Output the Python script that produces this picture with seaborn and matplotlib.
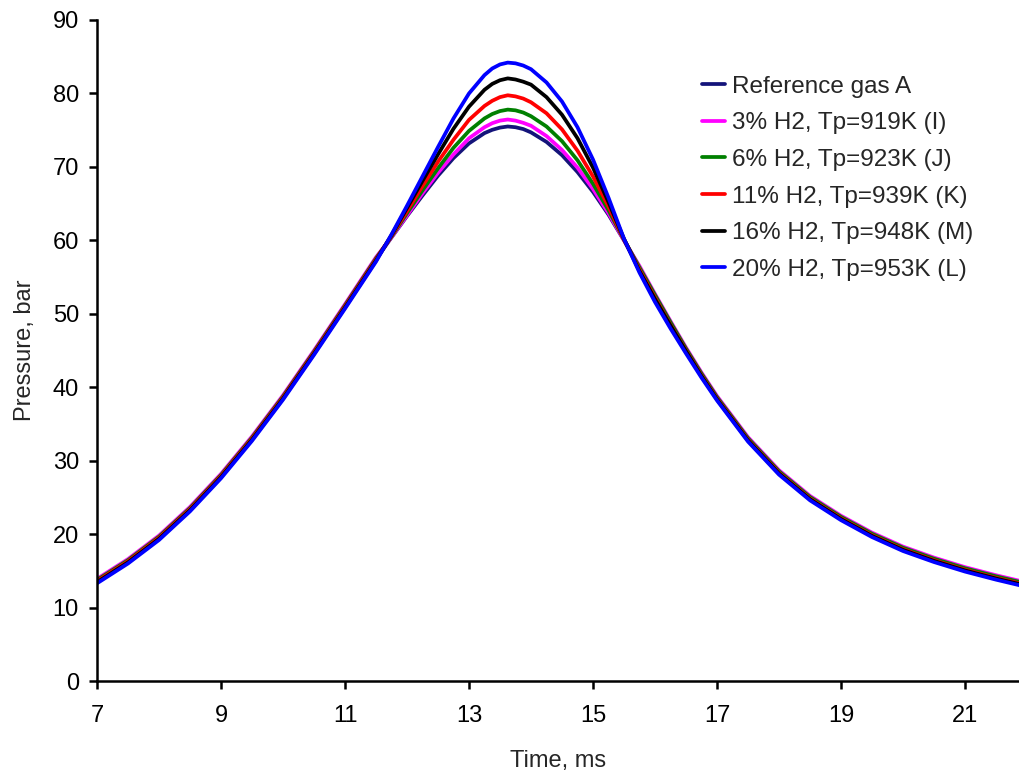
import numpy as np
import pandas as pd
import seaborn as sns
import matplotlib
matplotlib.use("Agg")
import matplotlib.pyplot as plt

time_ms = [7.0, 7.5, 8.0, 8.5, 9.0, 9.5, 10.0, 10.5, 11.0, 11.5,
           11.75, 12.0, 12.25, 12.5, 12.75, 13.0, 13.25, 13.375, 13.5, 13.625,
           13.75, 13.875, 14.0,
           14.25, 14.5, 14.75, 15.0, 15.25, 15.5,
           15.75, 16.0, 16.25, 16.5, 16.75, 17.0,
           17.5, 18.0, 18.5, 19.0, 19.5, 20.0, 20.5, 21.0, 21.5, 22.0]

ref_gas_a = [13.6, 16.3, 19.5, 23.4, 27.9, 33.0, 38.6, 44.7, 51.0, 57.4,
             60.4, 63.3, 66.1, 68.8, 71.2, 73.2, 74.6, 75.05, 75.35, 75.5,
             75.4, 75.15, 74.7,
             73.4, 71.6, 69.3, 66.6, 63.5, 60.0,
             56.2, 52.4, 48.7, 45.1, 41.7, 38.5,
             32.9, 28.4, 24.9, 22.2, 19.9, 18.0, 16.5, 15.2, 14.1, 13.1]

h2_3 = [13.9, 16.6, 19.8, 23.7, 28.2, 33.3, 38.9, 45.0, 51.3, 57.7,
        60.4, 63.4, 66.4, 69.2, 71.7, 73.9, 75.4, 75.95, 76.3, 76.45,
        76.3, 76.0, 75.6,
        74.2, 72.3, 69.9, 67.0, 63.7, 60.0,
        56.5, 52.7, 49.0, 45.4, 42.0, 38.8,
        33.2, 28.7, 25.2, 22.5, 20.2, 18.3, 16.8, 15.5, 14.4, 13.4]

h2_6 = [13.75, 16.45, 19.65, 23.55, 28.05, 33.15, 38.75, 44.85, 51.15, 57.55,
        60.5, 63.7, 66.8, 69.8, 72.6, 74.9, 76.6, 77.2, 77.6, 77.8,
        77.7, 77.4, 76.9,
        75.5, 73.5, 70.9, 67.7, 64.1, 60.1,
        56.3, 52.55, 48.85, 45.25, 41.85, 38.65,
        33.05, 28.55, 25.05, 22.35, 20.05, 18.15, 16.65, 15.35, 14.25, 13.25]

h2_11 = [13.6, 16.3, 19.5, 23.4, 27.9, 33.0, 38.6, 44.7, 51.0, 57.4,
         60.6, 64.0, 67.4, 70.7, 73.7, 76.4, 78.3, 79.0, 79.5, 79.75,
         79.6, 79.3, 78.8,
         77.3, 75.1, 72.2, 68.7, 64.6, 60.1,
         56.0, 52.2, 48.5, 45.0, 41.6, 38.45,
         32.85, 28.35, 24.85, 22.15, 19.85, 17.95, 16.45, 15.15, 14.05, 13.05]

h2_16 = [13.45, 16.15, 19.35, 23.25, 27.75, 32.85, 38.45, 44.55, 50.85, 57.25,
         60.7, 64.4, 68.1, 71.7, 75.2, 78.2, 80.5, 81.3, 81.8, 82.05,
         81.9, 81.6, 81.2,
         79.5, 77.1, 73.9, 69.9, 65.2, 60.2,
         55.8, 52.0, 48.4, 44.9, 41.5, 38.35,
         32.75, 28.25, 24.75, 22.05, 19.75, 17.85, 16.35, 15.05, 13.95, 12.95]

h2_20 = [13.3, 16.0, 19.2, 23.1, 27.6, 32.7, 38.3, 44.4, 50.7, 57.1,
         60.8, 64.7, 68.7, 72.7, 76.6, 80.0, 82.5, 83.4, 83.95, 84.2,
         84.1, 83.8, 83.3,
         81.5, 78.9, 75.4, 71.0, 65.8, 60.2,
         55.6, 51.6, 48.0, 44.6, 41.3, 38.2,
         32.6, 28.1, 24.6, 21.9, 19.6, 17.7, 16.2, 14.9, 13.8, 12.8]

series_labels = ["Reference gas A",
                 "3% H2, Tp=919K (I)",
                 "6% H2, Tp=923K (J)",
                 "11% H2, Tp=939K (K)",
                 "16% H2, Tp=948K (M)",
                 "20% H2, Tp=953K (L)"]
series_values = [ref_gas_a, h2_3, h2_6, h2_11, h2_16, h2_20]
series_colors = ["#14147a", "#ff00ff", "#008000", "#ff0000", "#000000", "#0000ff"]

x_ticks = [7, 9, 11, 13, 15, 17, 19, 21]
y_ticks = [0, 10, 20, 30, 40, 50, 60, 70, 80, 90]

frames = []
for lab, vals in zip(series_labels, series_values):
    frames.append(pd.DataFrame({"Time": time_ms, "Pressure": vals, "Series": lab}))
df = pd.concat(frames, ignore_index=True)

sns.set_theme(style="white")
plt.rcParams['font.family'] = ['Liberation Sans', 'DejaVu Sans']

fig = plt.figure(figsize=(10.19, 7.74), dpi=100)
ax = fig.add_axes([97/1019, 93/774, 922/1019, 661/774])

sns.lineplot(data=df, x="Time", y="Pressure", hue="Series",
             hue_order=series_labels, palette=series_colors,
             linewidth=2.7, ax=ax, legend=True, sort=False)
for ln in ax.get_lines():
    ln.set_solid_joinstyle("round")
    ln.set_solid_capstyle("round")

ax.set_xlim(7, 7 + 922/62)
ax.set_ylim(0, 90)
ax.set_xticks(x_ticks)
ax.set_yticks(y_ticks)

for s in ["top", "right"]:
    ax.spines[s].set_visible(False)
for s in ["left", "bottom"]:
    ax.spines[s].set_linewidth(1.8)
    ax.spines[s].set_color("black")

ax.tick_params(axis="both", direction="out", length=6, width=1.8, colors="black",
               labelsize=17)
ax.tick_params(axis="x", pad=11)
ax.tick_params(axis="y", pad=7)
ax.tick_params(bottom=True, left=True)

ax.set_xlabel("Time, ms", fontsize=17)
ax.set_ylabel("Pressure, bar", fontsize=17)
ax.xaxis.set_label_coords(0.5, -0.104)
ax.yaxis.set_label_coords(-0.066, 0.5)

leg = ax.legend(loc="upper left", bbox_to_anchor=((692-97)/922, (681-66)/661),
                frameon=False, fontsize=17.5, handlelength=0.95, handletextpad=0.28,
                labelspacing=0.6, borderaxespad=0)
for line in leg.get_lines():
    line.set_linewidth(2.7)

fig.savefig("out.png", dpi=100)
